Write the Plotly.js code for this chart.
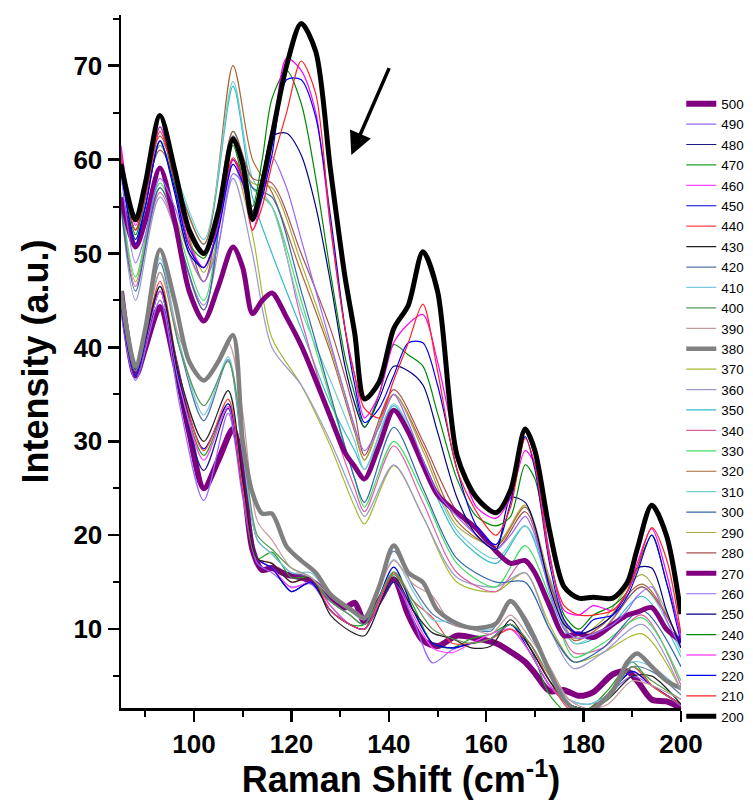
<!DOCTYPE html>
<html>
<head>
<meta charset="utf-8">
<script src="https://cdn.plot.ly/plotly-3.0.1.min.js"></script>
<style>html,body{margin:0;padding:0;background:#fff;}#chart{width:753px;height:800px;}</style>
</head>
<body>
<div id="chart"></div>
<script>
// ---- x grids (Raman shift, cm^-1) ----
const X_FINE = [85, 88, 90, 93, 96, 99, 102, 105, 108, 110, 112, 114, 116, 119, 122, 125, 128, 131, 133, 135, 138, 141, 144, 147, 150, 154, 158, 162, 165, 168, 170, 173, 176, 179, 182, 186, 189, 191, 194, 197, 200];
const X_MID = [85, 88, 93, 102, 108, 112, 116, 122, 128, 133, 135, 141, 147, 154, 162, 168, 173, 178, 184, 192, 200];
const X_LOW = [85, 88, 93, 97, 102, 107, 110, 113, 116, 120, 124, 128, 132, 135, 141, 145, 149, 153, 157, 161, 165, 169, 173, 177, 181, 185, 190, 194, 200];

// ---- intensities (a.u.) per temperature ----
const I200 = [59.5, 53.6, 57.5, 64.7, 59, 52.5, 50, 54.5, 62.2, 59.5, 53.6, 57.5, 62.5, 70, 74.5, 71.5, 59, 47.5, 41.5, 34.5, 36.3, 42, 44.5, 50.2, 46, 28.5, 24, 22.4, 24.8, 31.3, 29, 20.5, 14.5, 13.3, 13.4, 13.3, 15, 18.5, 23.2, 20, 11.6];
const I210 = [60, 52.5, 56, 63, 58, 52, 49.8, 54, 60.2, 58, 52.5, 55, 59.5, 65, 70.5, 67, 53, 42, 37, 33.5, 32.5, 36.5, 40.5, 44.6, 37.5, 27, 22.5, 20, 23, 30.3, 27.5, 17.5, 12.5, 11.5, 11.5, 12, 14, 16.5, 20.8, 17.5, 9.5];
const I220 = [59, 51, 55, 62, 57, 50.5, 48.5, 52.5, 59.5, 57.5, 53.5, 56, 60.5, 68.5, 68.5, 64.5, 54, 42, 36, 32, 33.5, 37, 40.5, 40.5, 36, 27, 21, 19, 23.5, 30.5, 27, 17, 11, 9.5, 11, 11.5, 13.5, 16, 20, 15, 8.5];
const I230 = [61.5, 53, 56.5, 63.5, 58, 51, 48.5, 53, 60, 57.5, 52.5, 56, 61.5, 70.8, 69.5, 65, 53, 42, 37, 32.5, 35, 40.5, 42.5, 43.5, 38.5, 29, 23, 21.8, 24, 29, 27.5, 18, 12, 11.5, 12.5, 12, 14, 17, 20.7, 16, 9];
const I240 = [60, 52, 56, 63.5, 57.5, 51, 49.5, 53.5, 61.5, 58, 55, 60, 66.5, 69.5, 66, 58, 48, 39, 35, 31.5, 35, 40.3, 39.2, 38, 33, 26, 22, 21, 22, 27.5, 26, 18, 11.5, 10, 11.5, 12.5, 14, 16.5, 20, 15, 9.5];
const I250 = [59, 51.5, 55, 62, 56.5, 50, 48.5, 53, 60, 58, 54.5, 58, 62.5, 62.8, 60.5, 55, 47, 38, 34, 31.5, 34.5, 38, 37.5, 36, 31, 24, 20, 18.5, 24, 23.5, 21, 14.5, 10.5, 9.5, 10, 11.5, 14, 16.5, 16.5, 12, 8];
const I260 = [58.5, 49, 52, 58, 55, 50, 47, 51, 58.5, 57.5, 54, 57, 60.3, 57, 51.5, 46, 40.5, 35, 31.5, 29, 31.5, 35, 32, 28, 24.5, 22, 20, 18.5, 20, 22, 20, 14, 10, 9, 9.5, 10.5, 12, 13.5, 14.5, 11, 8];
const I270 = [56, 50.7, 53.5, 59.1, 53.5, 46, 42.8, 46.5, 50.7, 48.5, 43.6, 45, 45.8, 43.2, 40.2, 36.5, 32.6, 28.8, 27.3, 26, 29.5, 33.3, 31, 27.5, 24.3, 22.4, 20.7, 18.3, 17, 17.3, 16, 12.5, 9.3, 9.5, 9.1, 10.5, 11.5, 11.8, 12.3, 10, 8.7];
const I280 = [61, 52.5, 62.5, 47, 63, 58, 57.5, 50, 42, 33, 28.5, 35.5, 30, 22.5, 18.5, 22.5, 15, 9.5, 10, 14.5, 8.5];
const I290 = [60, 52.5, 61.5, 48, 60, 57.5, 57, 49, 40, 31.5, 28, 35, 29, 21, 19, 23.2, 15.5, 9, 11, 15.8, 8];
const I300 = [55, 46, 57, 44, 62.5, 57, 56, 46, 35, 26, 23.5, 31.5, 25, 17.5, 15, 15, 10, 6.5, 8, 12, 6];
const I310 = [59, 52, 62, 51.5, 68.3, 58, 55, 44, 36.5, 30, 27, 34, 28, 20.5, 17.5, 21, 15.5, 8.5, 10, 14.5, 7.5];
const I320 = [60.5, 52.5, 61, 51, 70, 60, 56.5, 48, 39.5, 31, 28, 35, 29.5, 21.5, 18.8, 23, 15, 8.8, 10.5, 14.8, 8.5];
const I330 = [56.5, 47.5, 57.5, 45, 63, 57, 55, 45, 34.5, 26, 23, 30, 24.5, 17, 14.5, 18.9, 13.5, 7, 8.5, 11.2, 4.5];
const I340 = [55.5, 46.5, 56.5, 44, 62.5, 57, 55, 43, 32.5, 25, 22.5, 29.5, 23.5, 16, 14, 17.5, 13, 7.5, 8, 11.5, 4];
const I350 = [59.5, 51.5, 61.5, 51, 67.8, 56, 50, 42, 34, 29, 27, 33.8, 27.5, 20, 17, 21, 14.5, 8.5, 9.5, 13.5, 7];
const I360 = [55, 45, 56, 44.5, 58, 50, 40, 36, 30, 24, 22, 27.5, 22, 15.5, 14.5, 16, 10, 5.8, 7.5, 10.5, 3.5];
const I370 = [56, 47, 57, 47, 59.5, 52, 41, 36, 29.5, 23, 21.2, 27.4, 22, 15, 14, 16, 10.5, 6.5, 7.5, 9.5, 3.5];
const I380 = [46, 38, 42, 50.4, 45, 38.5, 36.5, 38.5, 41.3, 30, 24.5, 22.3, 22.3, 18.8, 17.3, 16, 13.7, 12.5, 11.8, 11.2, 14.5, 18.9, 16, 15, 12, 10.6, 10.1, 10.6, 13, 11, 9, 5.5, 2.5, 1.2, 1.5, 3.5, 6.5, 7.4, 6, 4.5, 3.7];
const I390 = [46, 38, 48, 41, 36.3, 40.5, 33, 21.5, 19.5, 16.5, 15.5, 13.5, 12, 11, 17.3, 14.8, 13.5, 10.5, 10, 9.5, 11.5, 9, 6, 2.5, 1.5, 2, 4.5, 4, 2.5];
const I400 = [45.5, 37.5, 48, 40, 33.8, 38.5, 30, 20, 18.5, 16.5, 15.5, 13, 11.5, 10.5, 16.1, 13, 10, 9, 8.5, 9, 10.5, 8.5, 5, 2, 1.5, 2.5, 6, 4.5, 2.5];
const I410 = [46, 38, 49.5, 40.5, 32.8, 39, 29, 19.5, 18, 16, 16, 13.5, 12, 11, 17.4, 14, 11, 10.8, 10, 10, 13, 10, 5.5, 2.5, 2, 3, 6.5, 6, 3.5];
const I420 = [45, 37.5, 49, 40, 32.2, 38.7, 28.5, 19.5, 18, 16, 15.5, 13, 11.5, 10.5, 18.3, 14.5, 11.6, 10.5, 10, 9.8, 12.8, 9.5, 5.5, 2.5, 2, 3, 6, 5.5, 3];
const I430 = [45, 37.5, 46.5, 37, 30, 35.4, 26, 17.5, 17, 15, 15.5, 11.5, 9.8, 9.3, 15.5, 12, 9.6, 9, 8, 8.2, 11, 8, 4.5, 2, 1.5, 2.5, 5, 5, 2];
const I440 = [45, 37.5, 47, 37, 29, 34.5, 25, 17.5, 17, 15, 15.5, 12, 10.5, 10, 16, 13, 11.2, 8.5, 8.5, 9, 10, 8.4, 4.5, 1.5, 1.5, 3, 6, 4, 2];
const I450 = [44.5, 37, 46.5, 36.5, 29.2, 34, 25, 17.5, 16.5, 14, 15, 12, 10.5, 10, 16.6, 12, 8.5, 8, 8.5, 9, 10.5, 8, 4.5, 2, 1.5, 3, 5.5, 4, 2];
const I460 = [44.5, 37, 46, 36, 28, 33.7, 24.5, 17.5, 16.5, 14.4, 15, 12.5, 10.5, 10, 15.5, 11.5, 8, 7.5, 8.5, 9.5, 10, 7.5, 4, 2, 1.5, 3, 5.5, 4, 2];
const I470 = [44.5, 37, 46, 36, 28.5, 34, 25, 17.5, 18.2, 15.5, 15.5, 12.5, 10.5, 10.5, 15.8, 12.5, 8.5, 8, 9, 9.5, 10.5, 8, 3, 1, 1.5, 3.5, 6.5, 4, 2];
const I480 = [44.5, 37, 46, 35.5, 26.9, 33.5, 24.5, 17.5, 16.5, 14, 15, 12, 10.5, 10, 15, 12, 8.5, 8, 8.5, 9, 10.5, 7.5, 4, 2, 1.5, 3, 5.5, 4, 2];
const I490 = [44, 36.5, 45, 34, 23.7, 33, 24, 17, 16, 14.5, 14.8, 12, 10.5, 10, 15, 11, 6.4, 7.8, 8.5, 9, 10, 7.5, 4, 2, 1.5, 3, 5, 4, 1.8];
const I500 = [46, 37, 40, 44.3, 38.5, 31, 25, 28, 31.3, 26.5, 18.5, 16.3, 16.5, 15.8, 15.5, 14.8, 13.3, 12.3, 12.8, 10.8, 13, 15.3, 11.5, 8.8, 8.2, 9.3, 9, 8.5, 7.6, 6.5, 5.3, 3.4, 3.5, 2.9, 3.3, 5.2, 5.5, 4.5, 2.5, 2.3, 1.6];

// legend order (top to bottom)
const LABELS = ['500','490','480','470','460','450','440','430','420','410','400','390','380','370','360','350','340','330','320','310','300','290','280','270','260','250','240','230','220','210','200'];

const SERIES = {
  '500': [X_FINE, I500], '490': [X_LOW, I490], '480': [X_LOW, I480], '470': [X_LOW, I470],
  '460': [X_LOW, I460], '450': [X_LOW, I450], '440': [X_LOW, I440], '430': [X_LOW, I430],
  '420': [X_LOW, I420], '410': [X_LOW, I410], '400': [X_LOW, I400], '390': [X_LOW, I390],
  '380': [X_FINE, I380], '370': [X_MID, I370], '360': [X_MID, I360], '350': [X_MID, I350],
  '340': [X_MID, I340], '330': [X_MID, I330], '320': [X_MID, I320], '310': [X_MID, I310],
  '300': [X_MID, I300], '290': [X_MID, I290], '280': [X_MID, I280], '270': [X_FINE, I270],
  '260': [X_FINE, I260], '250': [X_FINE, I250], '240': [X_FINE, I240], '230': [X_FINE, I230],
  '220': [X_FINE, I220], '210': [X_FINE, I210], '200': [X_FINE, I200]
};

const STYLE = {
  '500': ['#800080', 6], '490': ['#9966ff', 1.2], '480': ['#1a1a80', 1.2], '470': ['#22a022', 1.2],
  '460': ['#ff44ff', 1.2], '450': ['#0000dd', 1.2], '440': ['#ff4444', 1.2], '430': ['#222222', 1.2],
  '420': ['#5577aa', 1.2], '410': ['#77c8e0', 1.2], '400': ['#559955', 1.2], '390': ['#c49a9e', 1.2],
  '380': ['#808080', 4.5], '370': ['#a8b830', 1.2], '360': ['#9999cc', 1.2], '350': ['#33bbcc', 1.2],
  '340': ['#dd5fa5', 1.2], '330': ['#44dd66', 1.2], '320': ['#aa6633', 1.2], '310': ['#77cccc', 1.2],
  '300': ['#3366aa', 1.2], '290': ['#aaaa44', 1.2], '280': ['#aa5050', 1.2], '270': ['#800080', 5],
  '260': ['#9966ff', 1.2], '250': ['#000080', 1.2], '240': ['#008800', 1.2], '230': ['#ff00ff', 1.2],
  '220': ['#0000ff', 1.2], '210': ['#ff2222', 1.2], '200': ['#000000', 5]
};

const traces = LABELS.map(function (lab) {
  const s = SERIES[lab], st = STYLE[lab];
  return {
    type: 'scatter', mode: 'lines', name: lab,
    x: s[0], y: s[1],
    line: {color: st[0], width: st[1], shape: 'spline', smoothing: 0.8},
    hoverinfo: 'skip'
  };
});

const FONT = 'Arial, "Liberation Sans", sans-serif';

const layout = {
  width: 753, height: 800,
  margin: {l: 121, r: 72, t: 15, b: 92, autoexpand: false},
  paper_bgcolor: '#ffffff', plot_bgcolor: '#ffffff',
  showlegend: true,
  legend: {
    x: 1.0005, y: 0.894, xanchor: 'left', yanchor: 'top',
    bgcolor: 'rgba(0,0,0,0)', borderwidth: 0,
    font: {family: FONT, size: 13.4, color: '#000'},
    itemwidth: 30, traceorder: 'normal'
  },
  xaxis: {
    range: [85, 200], tick0: 0, dtick: 20,
    showgrid: false, zeroline: false,
    showline: true, linecolor: '#000', linewidth: 2.5,
    ticks: 'outside', ticklen: 11, tickwidth: 2.5, tickcolor: '#000',
    minor: {dtick: 10, tick0: 0, ticks: 'outside', ticklen: 6, tickwidth: 2, tickcolor: '#000', showgrid: false},
    tickfont: {family: FONT, size: 26, color: '#000', weight: 'bold'},
    title: {text: 'Raman Shift (cm<sup>-1</sup>)', font: {family: FONT, size: 36, color: '#000', weight: 'bold'}, standoff: 3}
  },
  yaxis: {
    range: [1.6, 75.4], tick0: 0, dtick: 10,
    showgrid: false, zeroline: false,
    showline: true, linecolor: '#000', linewidth: 2.5,
    ticks: 'outside', ticklen: 11, tickwidth: 2.5, tickcolor: '#000',
    minor: {dtick: 5, tick0: 0, ticks: 'outside', ticklen: 6, tickwidth: 2, tickcolor: '#000', showgrid: false},
    tickfont: {family: FONT, size: 26, color: '#000', weight: 'bold'},
    title: {text: 'Intensity (a.u.)', font: {family: FONT, size: 36, color: '#000', weight: 'bold'}, standoff: 14}
  },
  annotations: [{
    xref: 'x', yref: 'y', axref: 'x', ayref: 'y',
    x: 132.3, y: 60.5, ax: 140.2, ay: 69.9,
    text: '', showarrow: true, arrowhead: 2, arrowsize: 1.3, arrowwidth: 3.5, arrowcolor: '#000', standoff: 0
  }]
};

Plotly.newPlot('chart', traces, layout, {displayModeBar: false, staticPlot: true});
</script>
</body>
</html>
